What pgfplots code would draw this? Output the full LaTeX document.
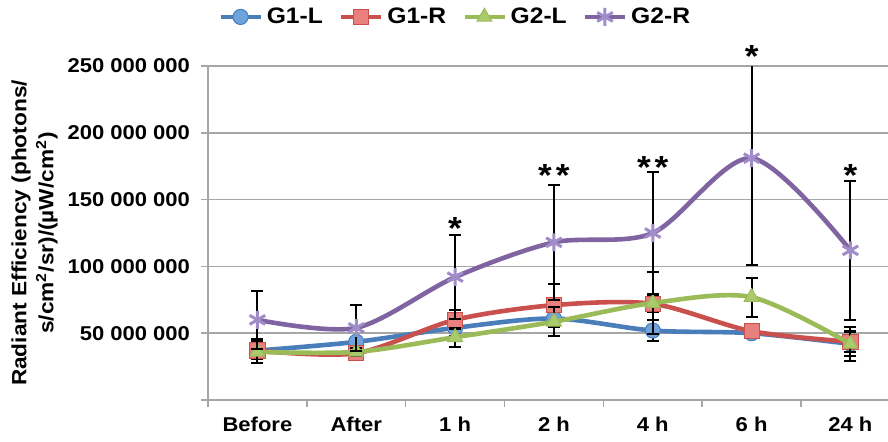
\documentclass[border=0pt]{standalone}
\usepackage{pgfplots}
\pgfplotsset{compat=1.18}
\usepackage{pgfplotstable}
\usepackage{fontspec}
\setmainfont{Liberation Sans}[FakeStretch=1.1]
\definecolor{cblue}{HTML}{4A7EBB}
\definecolor{cbluef}{HTML}{6FA3DC}
\definecolor{cred}{HTML}{C9504D}
\definecolor{credf}{HTML}{E8807E}
\definecolor{cgreen}{HTML}{9BBB59}
\definecolor{cgreenf}{HTML}{A9CB6B}
\definecolor{cpurple}{HTML}{8064A2}
\definecolor{cpurplef}{HTML}{A08CC8}
\definecolor{cgrid}{HTML}{A6A6A6}

\pgfplotstableread{
x y e
0 37 9
1 43.5 3
2 54 6
3 61 5
4 52 8
5 50 3
6 42 9
}\gOneL
\pgfplotstableread{
x y e
0 37 6
1 35 3
2 60 7
3 71 16
4 72 6
5 51.5 3
6 43.6 8
}\gOneR
\pgfplotstableread{
x y e
0 36 8
1 36 3
2 47 7
3 58.6 11
4 72.6 23.5
5 77 14.5
6 42 13
}\gTwoL
\pgfplotstableread{
x y e
0 60 21.5
1 54 17
2 92 31.5
3 118 43
4 125 46
5 181 80
6 112 52
}\gTwoR

\begin{document}
\begin{tikzpicture}[font=\bfseries\fontsize{10}{12}\selectfont]
\begin{axis}[
  at={(0,0)}, anchor=south west,
  scale only axis, width=340pt, height=167pt,
  xmin=-0.5, xmax=6.38, ymin=0, ymax=250,
  axis x line*=bottom, axis y line*=left,
  axis line style={draw=cgrid, line width=0.8pt},
  clip mode=individual,
  ytick={0,50,100,150,200,250},
  yticklabels={,50 000 000,100 000 000,150 000 000,200 000 000,250 000 000},
  ymajorgrids, grid style={draw=cgrid, line width=0.8pt},
  xtick={-0.5,0.5,1.5,2.5,3.5,4.5,5.5},
  xticklabels={},
  extra x ticks={0,1,2,3,4,5,6},
  extra x tick labels={Before,After,1 h,2 h,4 h,6 h,24 h},
  extra x tick style={major tick length=0pt, xticklabel style={yshift=-5pt}},
  tick align=outside, major tick length=3.5pt,
  tick style={draw=cgrid, line width=0.8pt},
  yticklabel style={xshift=-2pt},
  ylabel={Radiant Efficiency (photons/\\s/cm\textsuperscript{2}/sr)/(µW/cm\textsuperscript{2})},
  ylabel style={align=center, at={(axis description cs:-0.255,0.5)}, anchor=center, font=\bfseries\fontsize{10.3}{13.5}\selectfont},
  legend columns=4,
  legend style={at={(0.365,1.147)}, anchor=center, draw=none, fill=none,
    font=\bfseries\fontsize{11.2}{14}\selectfont,
    /tikz/every even column/.append style={column sep=6pt}},
  legend image code/.code={\draw[mark repeat=2,mark phase=2] plot coordinates {(0cm,0cm) (0.35cm,0cm) (0.7cm,0cm)};},
  error bars/error bar style={black, line width=1pt, solid},
  error bars/error mark options={black, line width=1pt, mark size=3pt, rotate=90},
]
\addplot[color=cblue, line width=2.3pt, smooth, mark=*, mark size=3.8pt,
  mark options={fill=cbluef, draw=cblue, line width=0.5pt},
  error bars/.cd, y dir=both, y explicit] table[x=x, y=y, y error=e] {\gOneL};
\addlegendentry{G1-L}
\addplot[color=cred, line width=2.3pt, smooth, mark=square*, mark size=3.8pt,
  mark options={fill=credf, draw=cred, line width=0.5pt},
  error bars/.cd, y dir=both, y explicit] table[x=x, y=y, y error=e] {\gOneR};
\addlegendentry{G1-R}
\addplot[color=cgreen, line width=2.3pt, smooth, mark=triangle*, mark size=4.3pt,
  mark options={fill=cgreenf, draw=cgreen, line width=0.5pt},
  error bars/.cd, y dir=both, y explicit] table[x=x, y=y, y error=e] {\gTwoL};
\addlegendentry{G2-L}
\addplot[color=cpurple, line width=2.3pt, smooth, mark=asterisk, mark size=4.5pt,
  mark options={draw=cpurplef, line width=1.5pt},
  error bars/.cd, y dir=both, y explicit] table[x=x, y=y, y error=e] {\gTwoR};
\addlegendentry{G2-R}
\node[anchor=base, font=\bfseries\fontsize{16}{16}\selectfont] at (axis cs:2,120) {*};
\node[anchor=base, font=\bfseries\fontsize{16}{16}\selectfont] at (axis cs:3,159.5) {*\hspace{2pt}*};
\node[anchor=base, font=\bfseries\fontsize{16}{16}\selectfont] at (axis cs:4,165.5) {*\hspace{2pt}*};
\node[anchor=base, font=\bfseries\fontsize{16}{16}\selectfont] at (axis cs:5,249) {*};
\node[anchor=base, font=\bfseries\fontsize{16}{16}\selectfont] at (axis cs:6,159.5) {*};
\end{axis}
\pgfresetboundingbox
\useasboundingbox (-104pt,-20.5pt) rectangle (340pt,200pt);
\end{tikzpicture}
\end{document}
